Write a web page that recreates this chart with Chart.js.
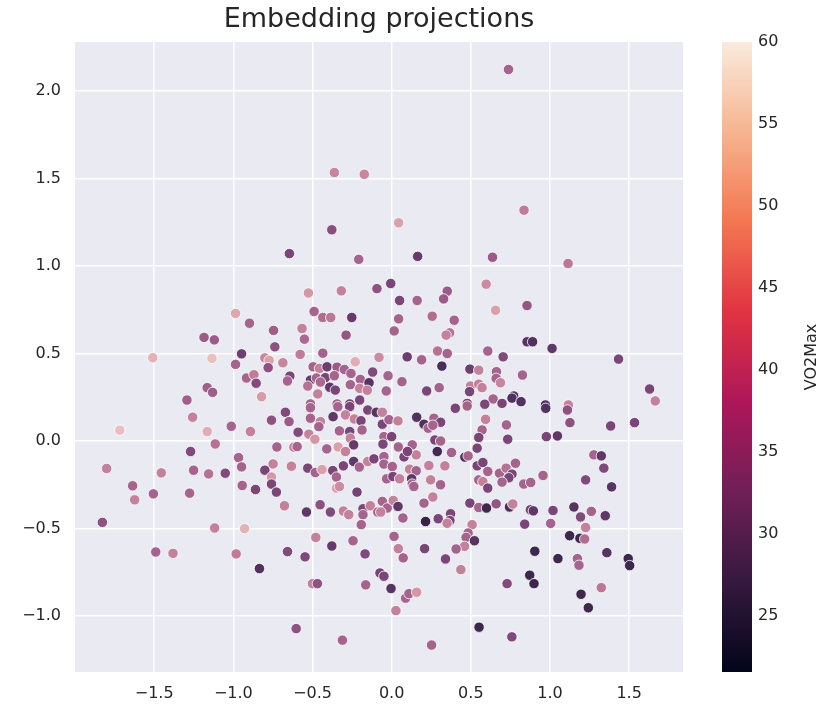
<!DOCTYPE html>
<html>
<head>
<meta charset="utf-8">
<script src="https://cdn.jsdelivr.net/npm/chart.js@4.4.0/dist/chart.umd.min.js"></script>
<style>
  html, body { margin: 0; padding: 0; background: #fff; }
</style>
</head>
<body>
<canvas id="embedChart" width="820" height="713"></canvas>
<script>
// projected embedding coordinates
const xVals = [
  0.738, -0.362, -0.173, -0.378, -0.646, -0.208, 0.044, 0.836, 0.164, 0.637, 1.114,
  -1.185, -1.120, -1.509, -1.135, -1.165, -1.131, -1.293,
  -0.093, -0.526, -0.318, -0.986, -0.898, -0.490, -0.435, -0.385, -0.252,
  -0.746, -0.566, -0.551, -0.288, -0.738, -0.435, -0.948, -0.578, -0.986,
  -0.801, -0.774, -0.780, -0.687, -0.917, -0.870, -0.856, -0.643, -0.658,
  -0.822, -0.496, -0.456, -0.408, -0.345, -0.299, -0.230, -0.257, -0.120,
  -0.513, -0.475, -0.419, -0.362, -0.450, -0.530, -0.391, -0.356, -0.467,
  -0.198, -0.261, -0.202, -0.143, -0.154, -0.202, -0.265, -0.345, -0.513,
  -0.671, -0.759, -0.648, -1.013, -0.892, -0.591, -0.513, -0.513, -0.450,
  -0.460, -0.523, -0.485, -0.370, -0.340, -0.265, -0.292, -0.330, -0.265,
  -0.236, -0.194, -0.187, -0.151, -0.097, -0.261, -0.240, -0.410, -0.338,
  -0.292, -0.725, -0.618, -0.597, -0.967, -0.948, -0.749, -0.801, -0.633,
  -0.530, -0.482, -0.440, -0.372, -0.349, -0.305, -0.240, -0.204, -0.151,
  -0.112, -0.759, -0.759, -0.728, -0.944, -0.860, -0.349, -0.330, -0.219,
  -0.677, -0.452, -0.538, -0.387, -0.305, -0.271, -0.181, -0.135, -0.181,
  -0.088, -0.192, -0.929, -0.479, -0.378, -0.244, -0.982, -0.658, -0.547, -0.168,
  -1.257, -1.717, -1.165, -1.114, -1.270, -1.800, -1.455, -1.251, -1.156,
  -1.051, -1.636, -1.623, -1.505, -1.276, -1.827, -1.118, -1.490, -1.381,
  -0.006, 0.050, 0.161, 0.351, 0.328, 0.597, 0.656, 0.855, 0.044,
  0.256, 0.395, 0.016, 0.366, 0.344, 0.855, -0.080, 0.098, 0.189,
  0.290, 0.351, 0.317, 0.607, 0.704, 0.494, 0.550, 0.662, 0.660,
  0.687, 0.826, -0.023, 0.065, -0.034, 0.221, 0.300, 0.498, 0.550,
  0.571, 0.492, 0.641, 0.771, 0.760, 0.817, 0.477, 0.588, 0.697,
  0.890, 1.013, 1.433, 1.629, 1.665, 0.971, 1.116, 1.110,
  -0.059, -0.059, -0.017, 0.040, -0.049, 0.000, -0.055, -0.049, -0.049,
  0.004, -0.032, 0.008, 0.050, 0.158, 0.204, 0.267, 0.231, 0.309,
  0.260, 0.273, 0.309, 0.288, 0.042, 0.130, 0.078, 0.155, 0.100,
  0.378, 0.402, 0.477, 0.593, 0.571, 0.550, 0.540, 0.725, 0.733,
  0.462, 0.483, 0.235, 0.336, 0.113, 0.155, 0.126, 0.130, 0.140,
  0.246, 0.309, 0.540, 0.576, 0.607, 0.550, 0.576, 0.607, 0.681,
  0.723, 0.782, 0.760, 0.740, 0.697, 0.834, 0.260, 0.204, -0.059,
  -0.028, -0.069, 0.010, 0.040, 0.071, 0.494, 0.550, 0.599, 0.660,
  0.744, 0.765, 0.214, 0.294, 0.372, 0.368, 0.350, 0.508, 0.483,
  0.470, 0.523, 0.460, 0.407, 0.840, 0.015, 0.042, 0.208, 0.073, 0.340, 0.876,
  0.973, 1.126, 1.383, 1.534, 0.977, 1.047, 1.277, 1.324, 1.340,
  0.956, 0.878, 1.225, 1.389, 0.895, 1.019, 1.151, 1.193, 1.261,
  1.349, 1.004, 1.225, 1.124, 1.189, 1.219, 0.904, 1.359, 1.050, 1.173, 1.494,
  -0.835, -0.500, -0.469, -0.164, -0.074, -0.603, -0.311, -0.049, 0.437,
  -0.004, 0.088, 0.109, 0.158, 0.027, 0.252, 0.729, 0.872, 0.899,
  0.552, 0.759, 1.183, 1.503, 1.324, 1.196, 1.242
];
const yVals = [
  2.123, 1.534, 1.524, 1.207, 1.071, 1.038, 1.247, 1.319, 1.055, 1.050, 1.014,
  0.592, 0.578, 0.476, 0.472, 0.305, 0.278, 0.234,
  0.871, 0.846, 0.858, 0.729, 0.673, 0.740, 0.706, 0.706, 0.706,
  0.632, 0.643, 0.582, 0.605, 0.538, 0.502, 0.498, 0.495, 0.438,
  0.475, 0.461, 0.419, 0.447, 0.360, 0.379, 0.330, 0.371, 0.343,
  0.253, 0.424, 0.415, 0.424, 0.422, 0.409, 0.453, 0.386, 0.394,
  0.348, 0.360, 0.362, 0.373, 0.337, 0.314, 0.307, 0.291, 0.269,
  0.352, 0.322, 0.301, 0.333, 0.290, 0.234, 0.212, 0.212, 0.212,
  0.164, 0.119, 0.111, 0.084, 0.054, 0.050, 0.190, 0.130, 0.111,
  0.082, 0.039, 0.010, 0.139, 0.196, 0.196, 0.149, 0.058, 0.054,
  0.126, 0.116, 0.063, 0.177, 0.164, 0.016, -0.022, -0.045, -0.034,
  -0.060, -0.034, -0.035, -0.032, -0.095, -0.148, -0.131, -0.167, -0.144,
  -0.155, -0.180, -0.163, -0.169, -0.206, -0.142, -0.117, -0.149, -0.117,
  -0.102, -0.206, -0.246, -0.292, -0.254, -0.277, -0.269, -0.260, -0.292,
  -0.370, -0.364, -0.406, -0.406, -0.400, -0.421, -0.387, -0.370, -0.421,
  -0.406, -0.478, -0.501, -0.551, -0.600, -0.570, -0.645, -0.632, -0.662, -0.645,
  0.136, 0.062, 0.054, -0.017, -0.060, -0.157, -0.182, -0.167, -0.188,
  -0.184, -0.256, -0.336, -0.302, -0.298, -0.465, -0.497, -0.634, -0.642,
  0.900, 0.803, 0.803, 0.856, 0.812, 0.896, 0.747, 0.774, 0.698,
  0.713, 0.690, 0.629, 0.618, 0.605, 0.567, 0.478, 0.481, 0.464,
  0.514, 0.500, 0.428, 0.514, 0.481, 0.411, 0.405, 0.396, 0.358,
  0.333, 0.377, 0.373, 0.339, 0.286, 0.286, 0.305, 0.314, 0.325,
  0.305, 0.282, 0.240, 0.257, 0.245, 0.225, 0.215, 0.210, 0.215,
  0.567, 0.529, 0.468, 0.297, 0.229, 0.206, 0.206, 0.177,
  0.164, 0.096, 0.122, 0.115, 0.025, 0.025, -0.018, -0.089, -0.132,
  -0.146, -0.216, -0.203, -0.216, 0.136, 0.096, 0.130, 0.073, 0.107,
  0.090, 0.006, 0.000, -0.060, -0.034, -0.022, -0.091, -0.079, -0.060,
  -0.066, 0.187, 0.200, 0.124, 0.063, 0.020, -0.041, 0.092, 0.010,
  -0.092, -0.085, -0.140, -0.142, -0.161, -0.170, -0.216, -0.246, -0.260,
  -0.222, -0.250, -0.142, -0.123, -0.174, -0.222, -0.232, -0.269, -0.184,
  -0.155, -0.127, -0.189, -0.210, -0.235, -0.246, -0.320, -0.355, -0.345,
  -0.383, -0.406, -0.340, -0.374, -0.440, -0.355, -0.380, -0.383, -0.359,
  -0.377, -0.360, -0.460, -0.444, -0.416, -0.454, -0.470, -0.478, -0.526,
  -0.551, -0.570, -0.602, -0.617, -0.475, -0.545, -0.615, -0.615, -0.668, -0.674, -0.393,
  0.187, 0.105, 0.086, 0.105, 0.025, 0.029, -0.079, -0.085, -0.155,
  -0.197, -0.237, -0.222, -0.262, -0.399, -0.397, -0.377, -0.434, -0.402,
  -0.427, -0.471, -0.494, -0.541, -0.556, -0.560, -0.630, -0.638, -0.672, -0.672, -0.672,
  -0.729, -0.815, -0.815, -0.822, -0.754, -1.072, -1.138, -0.773, -0.735,
  -0.843, -0.898, -0.872, -0.864, -0.969, -1.166, -0.815, -0.767, -0.815,
  -1.064, -1.119, -0.710, -0.712, -0.838, -0.876, -0.953
];
const vo2Vals = [
  40, 47, 47, 35, 33, 40, 52, 45, 30, 38, 44,
  38, 38, 55, 57, 39, 39, 39,
  36, 50, 46, 53, 40, 40, 42, 44, 30,
  39, 46, 41, 37, 36, 40, 31, 45, 40,
  47, 52, 36, 47, 40, 45, 34, 33, 40,
  51, 40, 46, 31, 38, 40, 54, 40, 34,
  30, 40, 33, 40, 41, 43, 29, 33, 46,
  40, 40, 46, 28, 46, 33, 33, 40, 40,
  34, 36, 38, 40, 46, 34, 40, 40, 46,
  40, 46, 50, 29, 40, 33, 46, 40, 33,
  46, 33, 40, 33, 28, 46, 30, 40, 52,
  46, 40, 46, 40, 40, 40, 46, 33, 46,
  33, 40, 52, 33, 40, 33, 29, 40, 46,
  33, 50, 33, 33, 40, 33, 52, 48, 32,
  46, 36, 29, 34, 46, 46, 33, 46, 40,
  40, 40, 55, 46, 30, 40, 45, 34, 34, 34,
  46, 57, 54, 43, 34, 46, 46, 40, 43,
  34, 40, 46, 40, 40, 36, 46, 40, 46,
  33, 33, 40, 38, 38, 48, 52, 37, 40,
  42, 40, 40, 43, 46, 28, 48, 31, 40,
  43, 40, 26, 40, 34, 31, 46, 40, 40,
  47, 40, 40, 40, 40, 33, 40, 46, 46,
  46, 33, 40, 27, 27, 27, 33, 33, 33,
  27, 29, 33, 33, 46, 27, 46, 36,
  46, 33, 40, 46, 40, 33, 33, 40, 40,
  40, 40, 33, 46, 27, 27, 40, 40, 33,
  40, 33, 40, 25, 40, 40, 33, 46, 33,
  40, 33, 40, 46, 40, 33, 33, 40, 33,
  27, 40, 46, 46, 46, 40, 29, 40, 40,
  46, 40, 33, 33, 40, 40, 46, 33, 40,
  43, 40, 33, 33, 40, 40, 46, 40, 40,
  40, 46, 46, 29, 40, 33, 40, 24, 37,
  26, 46, 23, 33, 33, 33, 46, 46, 40,
  40, 28, 46, 40, 33, 40, 46, 33, 40, 33, 33,
  27, 36, 33, 33, 33, 29, 40, 29, 34,
  40, 40, 34, 28, 29, 33, 28, 34, 40,
  29, 40, 46, 24, 24, 42, 24, 28, 24, 40, 24,
  27, 46, 36, 40, 33, 36, 40, 33, 46,
  28, 40, 40, 50, 46, 40, 34, 24, 24,
  24, 34, 40, 24, 44, 24, 24
];

const xTicks = [-1.5, -1.0, -0.5, 0.0, 0.5, 1.0, 1.5];
const yTicks = [-1.0, -0.5, 0.0, 0.5, 1.0, 1.5, 2.0];
const cbarTicks = [25, 30, 35, 40, 45, 50, 55, 60];
const vo2Min = 21.6;
const vo2Max = 60;

const textColor = '#262626';
const fontFamily = '"DejaVu Sans", "Liberation Sans", sans-serif';

// seaborn default cubehelix palette for the point hue (dark = low)
function pointColor(v) {
  const t = Math.min(1, Math.max(0, (v - vo2Min) / (vo2Max - vo2Min)));
  const x = 0.15 + 0.7 * t;
  const a = 0.8 * x * (1 - x) / 2;
  const phi = 2 * Math.PI * 0.4 * x;
  const c = Math.cos(phi), s = Math.sin(phi);
  const r = x + a * (-0.14861 * c + 1.78277 * s);
  const g = x + a * (-0.29227 * c - 0.90649 * s);
  const b = x + a * (1.97294 * c);
  const to255 = u => Math.round(Math.min(1, Math.max(0, u)) * 255);
  return `rgb(${to255(r)},${to255(g)},${to255(b)})`;
}

// rocket colormap stops for the colorbar
const rocketStops = [
  [0.0, '#03051A'], [0.143, '#35193E'], [0.286, '#701F57'], [0.429, '#AD1759'],
  [0.571, '#E13342'], [0.714, '#F37651'], [0.857, '#F6B48F'], [1.0, '#FAEBDD']
];

const points = xVals.map((x, i) => ({ x: x, y: yVals[i] }));
const colors = vo2Vals.map(pointColor);

function fmtTick(v) {
  return v.toFixed(1).replace('-', '\u2212');
}

const plotBg = {
  id: 'plotBg',
  beforeDraw(chart) {
    const { ctx, chartArea } = chart;
    ctx.save();
    ctx.fillStyle = '#EAEAF2';
    ctx.fillRect(chartArea.left, chartArea.top, chartArea.right - chartArea.left, chartArea.bottom - chartArea.top);
    ctx.restore();
  }
};

// title centred over the axes, plus the colorbar on the right
const decorations = {
  id: 'decorations',
  afterDraw(chart) {
    const { ctx, chartArea } = chart;
    const top = chartArea.top, bottom = chartArea.bottom;
    ctx.save();
    ctx.fillStyle = textColor;
    ctx.font = '27px ' + fontFamily;
    ctx.textAlign = 'center';
    ctx.textBaseline = 'middle';
    ctx.fillText('Embedding projections', (chartArea.left + chartArea.right) / 2, 20);

    const left = 722, w = 30;
    const grad = ctx.createLinearGradient(0, bottom, 0, top);
    rocketStops.forEach(s => grad.addColorStop(s[0], s[1]));
    ctx.fillStyle = grad;
    ctx.fillRect(left, top, w, bottom - top);
    ctx.fillStyle = textColor;
    ctx.font = '16px ' + fontFamily;
    ctx.textAlign = 'left';
    cbarTicks.forEach(v => {
      const y = bottom - (v - vo2Min) / (vo2Max - vo2Min) * (bottom - top);
      ctx.fillText(String(v), left + w + 6, y);
    });
    ctx.translate(812, (top + bottom) / 2);
    ctx.rotate(-Math.PI / 2);
    ctx.textAlign = 'center';
    ctx.fillText('VO2Max', 0, 0);
    ctx.restore();
  }
};

const ctx = document.getElementById('embedChart').getContext('2d');
const embedChart = new Chart(ctx, {
  type: 'scatter',
  data: {
    datasets: [{
      data: points,
      pointBackgroundColor: colors,
      pointBorderColor: '#ffffff',
      pointBorderWidth: 0.8,
      pointRadius: 5.2,
      pointHoverRadius: 5.2
    }]
  },
  options: {
    responsive: false,
    animation: false,
    devicePixelRatio: 1,
    layout: { padding: { left: 0, right: 137, top: 42, bottom: 0 } },
    plugins: {
      legend: { display: false },
      tooltip: { enabled: false },
      title: { display: false }
    },
    scales: {
      x: {
        type: 'linear',
        min: -2.0,
        max: 1.84,
        afterBuildTicks: s => { s.ticks = xTicks.map(v => ({ value: v })); },
        afterFit: s => { s.height = 41; },
        grid: { color: '#ffffff', lineWidth: 1.5, drawTicks: false },
        border: { display: false },
        ticks: { padding: 12, color: textColor, font: { family: fontFamily, size: 16 }, callback: v => fmtTick(v) }
      },
      y: {
        type: 'linear',
        min: -1.32,
        max: 2.28,
        afterBuildTicks: s => { s.ticks = yTicks.map(v => ({ value: v })); },
        afterFit: s => { s.width = 75; },
        grid: { color: '#ffffff', lineWidth: 1.5, drawTicks: false },
        border: { display: false },
        ticks: { padding: 14, color: textColor, font: { family: fontFamily, size: 16 }, callback: v => fmtTick(v) }
      }
    }
  },
  plugins: [plotBg, decorations]
});
</script>
</body>
</html>
